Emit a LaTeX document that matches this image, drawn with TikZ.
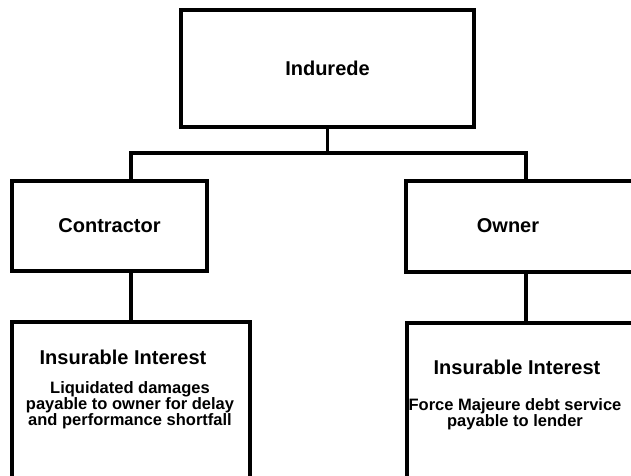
\documentclass[tikz,border=0pt]{standalone}
\usepackage{fontspec}
\setmainfont{Liberation Sans}
\usetikzlibrary{positioning}

\begin{document}
\begin{tikzpicture}[x=1pt,y=-1pt,line width=3.2pt,node distance=4pt,
                    box/.style={draw,rectangle,inner sep=0pt},
                    head/.style={inner sep=0pt,font=\fontsize{20}{22}\selectfont\bfseries},
                    detail/.style={inner sep=0pt,align=center,font=\fontsize{16.5}{16}\selectfont\bfseries}]
  \useasboundingbox (0,0) rectangle (631,475);
  % boxes
  \node[box,head,minimum width=293pt,minimum height=117pt] (insured) at (327.5,68.5) {Indurede};
  \node[box,head,minimum width=195pt,minimum height=90pt] (contractor) at (109.5,226) {Contractor};
  \node[box,minimum width=250pt,minimum height=91pt] (owner) at (531,226.5) {};
  \node[box,minimum width=238pt,minimum height=200pt] (ctrint) at (131,422) {};
  \node[box,minimum width=250pt,minimum height=200pt] (ownint) at (532,423) {};
  % texts
  \node[head] (ownername) at (508,226) {Owner};
  \node[head] (ctrhead) at (123,357) {Insurable Interest};
  \node[detail,below=14pt of ctrhead,xshift=7pt] (ctrtext) {Liquidated damages\\payable to owner for delay\\and performance shortfall};
  \node[head] (ownhead) at (517,367) {Insurable Interest};
  \node[detail,below=30pt of ownhead.center,anchor=north,xshift=-2pt] (owntext) {Force Majeure debt service\\payable to lender};
  % connectors
  \coordinate (barL) at (131,153);
  \coordinate (barR) at (526,153);
  \draw (insured.south) -- (insured.south |- barL);
  \draw (contractor.north -| barL) -- (barL) -- (barR) -- (owner.north -| barR);
  \draw (contractor.south -| barL) -- (ctrint.north -| barL);
  \draw (owner.south -| barR) -- (ownint.north -| barR);
\end{tikzpicture}
\end{document}
